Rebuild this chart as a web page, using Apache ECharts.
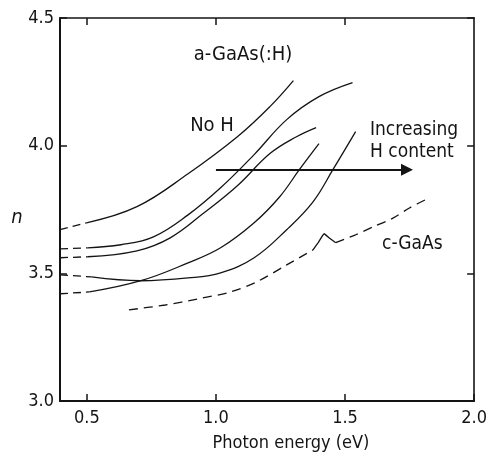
<!DOCTYPE html>
<html><head><meta charset="utf-8">
<script src="https://cdn.jsdelivr.net/npm/echarts@6/dist/echarts.min.js"></script>
<style>html,body{margin:0;padding:0;background:#fff}#c{width:490px;height:454px}</style>
</head><body><div id="c"></div>
<script>
// Axis ticks
const xTicks = [0.5, 1.0, 1.5, 2.0];
const yTicks = [3.0, 3.5, 4.0, 4.5];

// a-GaAs, no hydrogen (dashed extrapolation + measured)
const noH_extrap = [[0.396,3.671],[0.499,3.698]];
const noH = [[0.499,3.698],[0.694,3.761],[0.892,3.890],[1.083,4.035],[1.209,4.153],[1.300,4.255]];
// a-GaAs:H, increasing H content
const h1_extrap = [[0.396,3.596],[0.503,3.600]];
const h1 = [[0.503,3.600],[0.632,3.612],[0.758,3.643],[0.892,3.729],[1.018,3.835],[1.148,3.965],[1.274,4.102],[1.399,4.192],[1.529,4.247]];
const h2_extrap = [[0.396,3.561],[0.503,3.565]];
const h2 = [[0.503,3.565],[0.694,3.588],[0.823,3.639],[0.949,3.733],[1.083,3.843],[1.209,3.969],[1.312,4.035],[1.388,4.071]];
const h3_extrap = [[0.396,3.420],[0.510,3.427]];
const h3 = [[0.510,3.427],[0.709,3.471],[0.892,3.541],[1.018,3.600],[1.148,3.698],[1.247,3.800],[1.323,3.906],[1.399,4.008]];
const h4_extrap = [[0.396,3.494],[0.518,3.486]];
const h4 = [[0.518,3.486],[0.709,3.471],[0.892,3.482],[1.018,3.502],[1.148,3.561],[1.274,3.671],[1.376,3.780],[1.453,3.906],[1.541,4.055]];
// crystalline GaAs
const cGaAs_a = [[0.663,3.357],[0.804,3.376],[0.930,3.400],[1.056,3.427],[1.159,3.467],[1.274,3.533],[1.376,3.592]];
const cGaAs_peak = [[1.376,3.592],[1.396,3.620],[1.419,3.655],[1.438,3.639],[1.464,3.620]];
const cGaAs_b = [[1.464,3.620],[1.541,3.651],[1.617,3.686],[1.682,3.714],[1.751,3.757],[1.819,3.792]];
// arrow "Increasing H content"
const arrowStart = [1.0, 3.906];
const arrowEnd = [1.74, 3.906];

const FONT = "'DejaVu Sans Condensed', 'Liberation Sans Narrow', sans-serif";
const INK = '#141414';

function solid(data){
  return {type:'line', data, showSymbol:false, symbol:'none', smooth:0.4,
    lineStyle:{color:INK, width:1.3}, silent:true, z:3};
}
function dashed(data){
  return {type:'line', data, showSymbol:false, symbol:'none', smooth:false,
    lineStyle:{color:INK, width:1.3, type:[8,5]}, silent:true, z:3};
}

const axisCommon = {
  axisLine:{show:true, onZero:false, lineStyle:{color:INK, width:2}},
  axisTick:{show:true, inside:true, length:7, lineStyle:{color:INK, width:1.5}},
  splitLine:{show:false}
};

const chart = echarts.init(document.getElementById('c'), null, {renderer:'canvas'});
chart.setOption({
  animation:false,
  backgroundColor:'#fff',
  grid:{left:60, right:10, top:18, bottom:53, containLabel:false},
  xAxis:[
    Object.assign({type:'value', min:0.396, max:2.0, position:'bottom',
      axisLabel:{customValues:xTicks, formatter:v=>v.toFixed(1), color:INK, fontSize:18, fontFamily:FONT, margin:8},
    }, axisCommon, {axisTick:Object.assign({}, axisCommon.axisTick, {customValues:xTicks})}),
    Object.assign({type:'value', min:0.396, max:2.0, position:'top',
      axisLabel:{show:false}
    }, axisCommon, {axisTick:Object.assign({}, axisCommon.axisTick, {customValues:xTicks.slice(0,3)}),
      axisLine:{show:true, onZero:false, lineStyle:{color:INK, width:1.6}}})
  ],
  yAxis:[
    Object.assign({type:'value', min:3.0, max:4.5, interval:0.5, position:'left',
      axisLabel:{formatter:v=>v.toFixed(1), color:INK, fontSize:18, fontFamily:FONT, margin:6}
    }, axisCommon),
    Object.assign({type:'value', min:3.0, max:4.5, interval:0.5, position:'right',
      axisLabel:{show:false}
    }, axisCommon, {axisLine:{show:true, onZero:false, lineStyle:{color:INK, width:1.6}}})
  ],
  series:[
    dashed(noH_extrap), solid(noH),
    dashed(h1_extrap), solid(h1),
    dashed(h2_extrap), solid(h2),
    dashed(h3_extrap), solid(h3),
    dashed(h4_extrap), solid(h4),
    Object.assign(dashed(cGaAs_a), {smooth:0.3, lineStyle:{color:INK, width:1.3, type:[9,6]}}),
    Object.assign(solid(cGaAs_peak), {smooth:0.1}),
    Object.assign(dashed(cGaAs_b), {smooth:0.3, lineStyle:{color:INK, width:1.3, type:[9,6]}}),
    {type:'line', data:[], silent:true,
      markLine:{silent:true, animation:false, symbol:['none','triangle'], symbolSize:12,
        symbolOffset:[0,0],
        label:{show:false}, lineStyle:{color:INK, width:1.8, type:'solid'},
        emphasis:{disabled:true},
        data:[[{coord:arrowStart},{coord:arrowEnd}]]}}
  ],
  graphic:[
    {type:'text', x:243, y:55, style:{text:'a-GaAs(:H)', font:'20px '+FONT, fill:INK, textAlign:'center', textVerticalAlign:'middle'}},
    {type:'text', x:212, y:126, style:{text:'No H', font:'20px '+FONT, fill:INK, textAlign:'center', textVerticalAlign:'middle'}},
    {type:'text', x:370, y:130, style:{text:'Increasing', font:'19px '+FONT, fill:INK, textAlign:'left', textVerticalAlign:'middle'}},
    {type:'text', x:370, y:152, style:{text:'H content', font:'19px '+FONT, fill:INK, textAlign:'left', textVerticalAlign:'middle'}},
    {type:'text', x:382, y:244, style:{text:'c-GaAs', font:'19px '+FONT, fill:INK, textAlign:'left', textVerticalAlign:'middle'}},
    {type:'text', x:17, y:218, style:{text:'n', font:'italic 20px '+FONT, fill:INK, textAlign:'center', textVerticalAlign:'middle'}},
    {type:'text', x:291, y:443, style:{text:'Photon energy (eV)', font:'18px '+FONT, fill:INK, textAlign:'center', textVerticalAlign:'middle'}}
  ]
});
</script>
</body></html>
